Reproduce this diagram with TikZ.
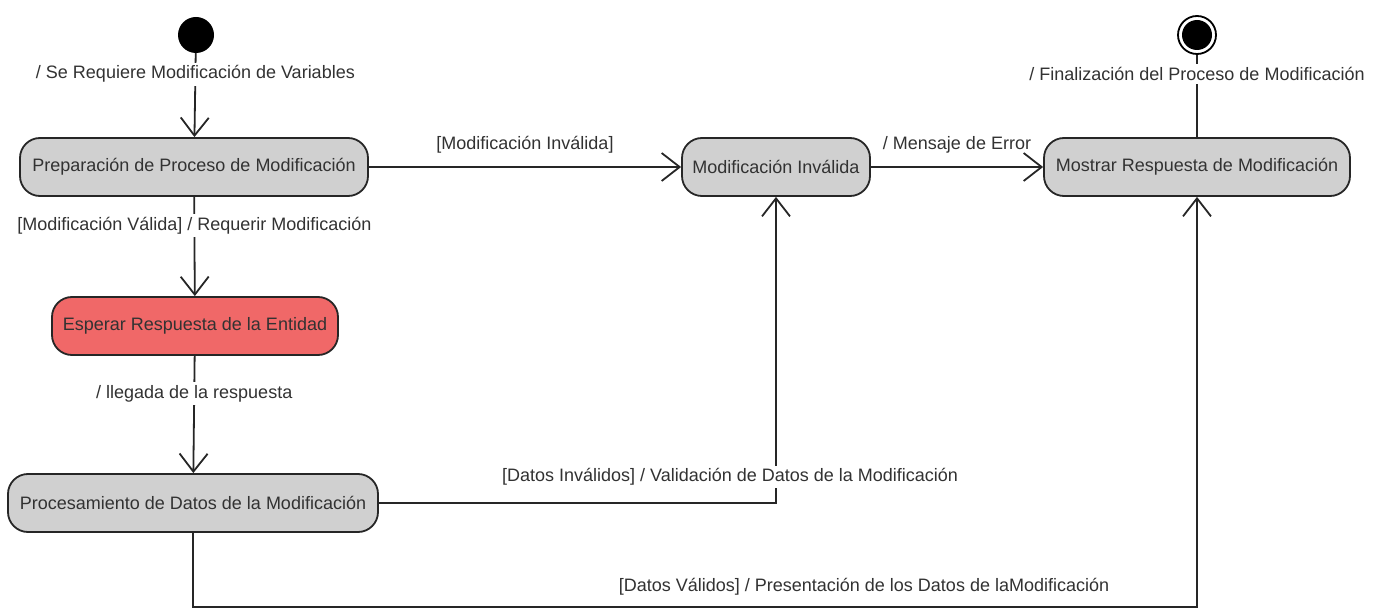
\documentclass[tikz,border=0pt]{standalone}
\usepackage{fontspec}
\setmainfont{Liberation Sans}
\usetikzlibrary{arrows.meta}
\definecolor{stategray}{RGB}{208,208,208}
\definecolor{waitred}{RGB}{240,104,104}
\definecolor{ink}{RGB}{50,50,50}
\begin{document}
\begin{tikzpicture}[x=1pt,y=-1pt,
  state/.style={draw=black!85, line width=1.8pt, rounded corners=20pt, fill=stategray,
    minimum height=58pt, text=ink, font=\fontsize{18}{21}\selectfont, inner xsep=4pt},
  lbl/.style={fill=white, text=ink, inner sep=3pt, font=\fontsize{18}{21}\selectfont},
  tr/.style={draw=black!85, line width=1.8pt, -{Straight Barb[length=18pt,width=28pt,line width=1.8pt]}},
  plain/.style={draw=black!85, line width=1.8pt}]
\useasboundingbox (0,0) rectangle (1375,612);

% states
\node[circle, fill=black, minimum size=36pt, inner sep=0pt] (init) at (196,35) {};
\node[state, minimum width=348pt] (prep) at (194,167) {Preparación de Proceso de Modificación};
\node[state, fill=waitred, minimum width=286pt] (wait) at (195,326) {Esperar Respuesta de la Entidad};
\node[state, minimum width=370pt] (proc) at (193,503) {Procesamiento de Datos de la Modificación};
\node[state, minimum width=188pt] (inv) at (776,167) {Modificación Inválida};
\node[state, minimum width=306pt] (show) at (1197,167) {Mostrar Respuesta de Modificación};
\node[circle, draw=black, line width=1.8pt, minimum size=38pt, inner sep=0pt] (fin) at (1197,35) {};
\node[circle, fill=black, minimum size=30pt, inner sep=0pt] at (fin.center) {};

% transitions
\draw[tr] (init) -- (prep)
  node[lbl, pos=0.25] {/ Se Requiere Modificación de Variables};
\draw[tr] (prep) -- (wait)
  node[lbl, pos=0.29] {[Modificación Válida] / Requerir Modificación};
\draw[tr] (wait) -- (proc)
  node[lbl, pos=0.32] {/ llegada de la respuesta};
\draw[tr] (prep) -- (inv)
  node[lbl, midway, above=10pt, fill=none] {[Modificación Inválida]};
\draw[tr] (inv) -- (show)
  node[lbl, midway, above=10pt, fill=none] {/ Mensaje de Error};
\draw[plain] (show) -- (fin)
  node[lbl, pos=0.77] {/ Finalización del Proceso de Modificación};

\draw[tr] (proc.east) -| (inv.south);
\node[lbl] (lblinv) at (730,477) {[Datos Inválidos] / Validación de Datos de la Modificación};

\coordinate (bend) at (proc.south |- 0,607);
\draw[tr] (proc.south) -- (bend) -| (show.south);
\node[lbl] (lblok) at (864,587) {[Datos Válidos] / Presentación de los Datos de laModificación};
\end{tikzpicture}
\end{document}
